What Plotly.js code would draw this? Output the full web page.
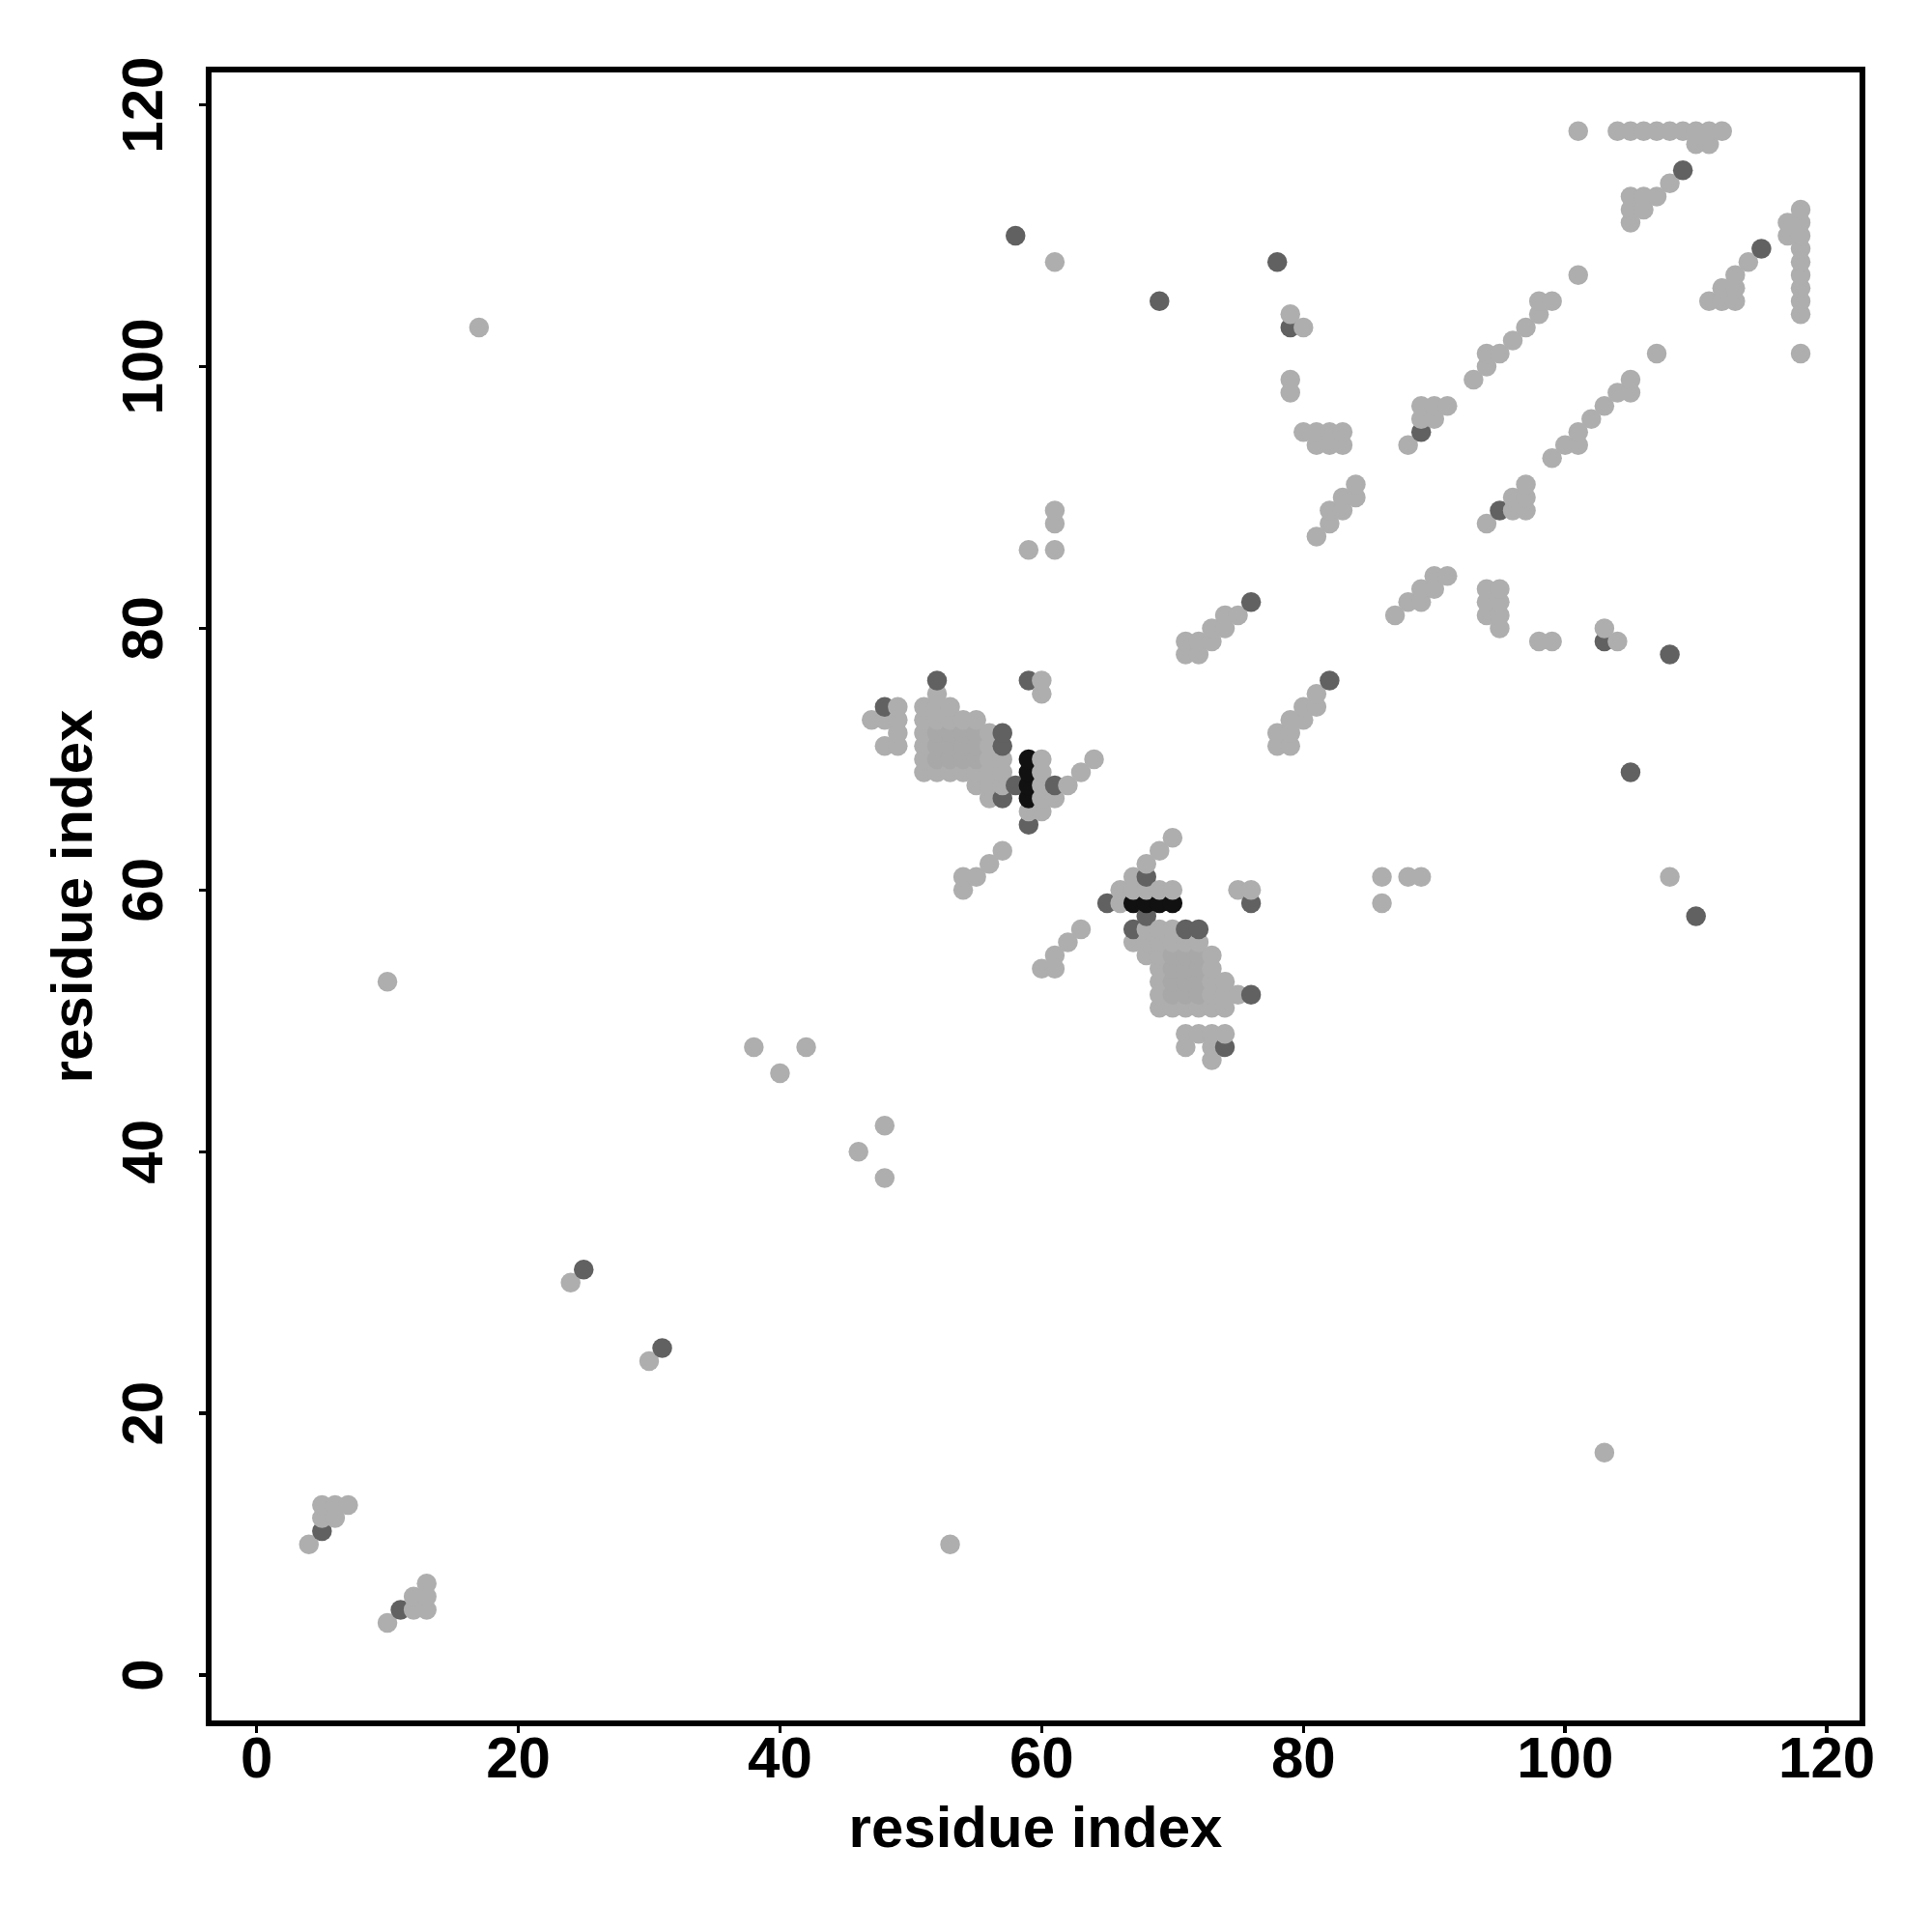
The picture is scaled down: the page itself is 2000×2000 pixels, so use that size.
<!DOCTYPE html>
<html>
<head>
<meta charset="utf-8">
<script src="https://cdn.plot.ly/plotly-3.0.1.min.js"></script>
<style>html,body{margin:0;padding:0;background:#fff}</style>
</head>
<body>
<div id="chart" style="width:2000px;height:2000px"></div>
<script>
const lightX = [4, 5,5, 6,6, 7, 10,10, 12,12, 13,13,13, 17, 24, 30, 38, 40, 42, 46, 47,
  48,48,48,48, 49,49,49,49, 51,51,51,51,51,51, 52,52,52,52, 53,53,53,53, 54,54,54,54, 55,55,55,55,
  56,56,56,56,56,56,56, 57,57,57,57, 59,59, 60,60,60,60,60,60,60,60, 61,61,61,61,61,61,61,
  62,62, 63,63, 64, 66,66, 67,67,67, 68,68,68,68,68,
  69,69,69,69,69,69,69,69,69, 70,70,70,70,70, 71,71,71,71,71,71, 72,72,72,72,72,
  73,73,73,73,73,73,73,73,73,73, 74,74,74,74,74,74, 75,75,75, 76,
  78,78, 79,79,79,79,79,79, 80,80,80,80, 81,81,81,81,81, 82,82,82,82, 83,83,83,83, 84,84,
  86,86, 87, 88,88,88, 89,89,89,89,89, 90,90,90,90, 91,91, 93,
  94,94,94,94,94,94, 95,95,95,95,95, 96,96,96, 97,97,97,97, 98,98,98, 99,99,99, 100,
  101,101,101,101, 102, 103,103,103, 104,104,104, 105,105,105,105,105,105, 106,106,106,
  107,107,107, 108,108,108, 109, 110,110, 111,111,111, 112,112,112, 113,113,113, 114,
  117,117, 118,118,118,118,118,118,118,118,118,118];
const lightY = [10, 12,13, 12,13, 13, 4,53, 5,6, 5,6,7, 103, 30, 24, 48, 46, 48, 40, 73,
  38,42,71,73, 71,72,73,74, 69,70,71,72,73,74, 69,73,74,75, 10,69,73,74, 60,61,69,73, 61,68,69,73,
  62,67,68,69,70,71,72, 63,68,69,70, 66,86, 54,66,67,68,69,70,75,76, 54,55,67,86,88,89,108,
  56,68, 57,69, 70, 59,60, 56,60,61, 55,56,57,60,62,
  51,52,53,54,55,56,57,60,63, 51,56,57,60,64, 48,49,51,56,78,79, 49,51,56,78,79,
  47,48,49,51,52,53,54,55,79,80, 49,51,52,53,80,81, 52,60,81, 60,
  71,72, 71,72,73,98,99,104, 73,74,95,103, 74,75,87,94,95, 88,89,94,95, 89,90,94,95, 90,91,
  59,61, 81, 61,82,94, 61,82,83,96,97, 83,84,96,97, 84,97, 99,
  81,82,83,88,100,101, 80,81,82,83,101, 89,90,102, 89,90,91,103, 79,104,105, 79,93,105, 94,
  94,95,107,118, 96, 17,80,97, 79,98,118, 98,99,111,112,113,118, 112,113,118,
  101,113,118, 61,114,118, 118, 117,118, 105,117,118, 105,106,118, 105,106,107, 108,
  110,111, 101,104,105,106,107,108,109,110,111,112];
const midX = [52,52,52, 53,53,53, 54,54,54, 55,55,55, 70,70,70,70, 71,71,71,71, 72,72,72,72];
const midY = [70,71,72, 70,71,72, 70,71,72, 70,71,72, 52,53,54,55, 52,53,54,55, 52,53,54,55];
const darkX = [5, 11, 25, 31, 48, 52, 57,57,57, 58,58, 59,59, 61, 65, 67, 68,68, 69, 71, 72, 74,
  76,76,76, 78, 79, 82, 89, 95, 103, 105, 108, 109, 110, 115];
const darkY = [11, 5, 31, 25, 74, 76, 67,71,72, 68,110, 65,76, 68, 59, 57, 58,61, 105, 57, 57, 48,
  52,59,82, 108, 103, 76, 95, 89, 79, 69, 78, 115, 58, 109];
const blackX = [59,59,59,59, 67, 68, 69, 70];
const blackY = [67,68,69,70, 59, 59, 59, 59];
const tickValues = [0, 20, 40, 60, 80, 100, 120];
const axisLabel = 'residue index';
const lightGrey = '#aeaeae', midGrey = '#a8a8a8', darkGrey = '#616161', blackGrey = '#111111';

const pts = [];
const add = (xs, ys, c) => xs.forEach((x, i) => pts.push({x, y: ys[i], c}));
add(lightX, lightY, lightGrey);
add(midX, midY, midGrey);
add(darkX, darkY, darkGrey);
add(blackX, blackY, blackGrey);
pts.sort((a, b) => a.x - b.x || a.y - b.y);

const font = {family: '"Liberation Sans", Arial, sans-serif', size: 60, color: '#000', weight: 700};
const axisBase = {
  showgrid: false, zeroline: false, showline: true, mirror: true,
  linecolor: '#000', linewidth: 6,
  ticks: 'outside', ticklen: 7, tickwidth: 3.5, tickcolor: '#000',
  tickmode: 'array', tickvals: tickValues, ticktext: tickValues.map(String),
  tickfont: font
};
Plotly.newPlot('chart', [{
  type: 'scatter', mode: 'markers',
  x: pts.map(p => p.x), y: pts.map(p => p.y),
  marker: {size: 20.5, color: pts.map(p => p.c), line: {width: 0}},
  hoverinfo: 'x+y'
}], {
  width: 2000, height: 2000,
  paper_bgcolor: '#fff', plot_bgcolor: '#fff',
  showlegend: false,
  margin: {l: 219, r: 74.5, t: 74.75, b: 218.75, pad: 0},
  font: font,
  xaxis: Object.assign({}, axisBase, {
    range: [-3.44, 122.5], automargin: false, ticklabelstandoff: -26,
    title: {text: axisLabel, font: font, standoff: 20}
  }),
  yaxis: Object.assign({}, axisBase, {
    range: [-3.46, 122.48], automargin: false, tickangle: -90, ticklabelstandoff: 14, ticklabelshift: 9,
    title: {text: axisLabel, font: font, standoff: 1}
  })
}, {displayModeBar: false, staticPlot: true});
</script>
</body>
</html>
